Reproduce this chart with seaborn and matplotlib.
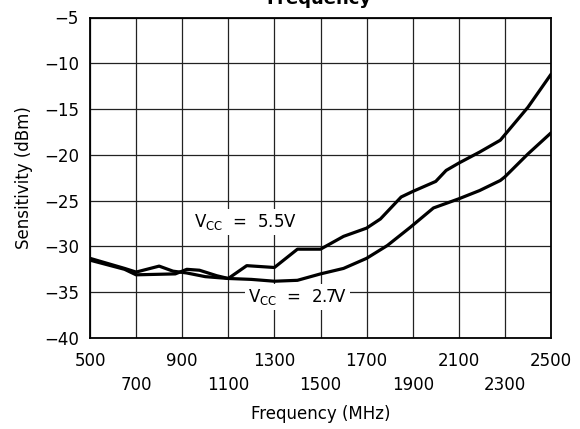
import matplotlib
matplotlib.use("Agg")
import matplotlib.pyplot as plt
import seaborn as sns
import numpy as np

freq_55 = [500, 650, 700, 800, 860, 920, 1000, 1100, 1180, 1300, 1400, 1500, 1600,
           1700, 1760, 1850, 1900, 2000, 2045, 2100, 2190, 2280, 2300, 2400, 2500]
sens_55 = [-31.3, -32.4, -32.8, -32.15, -32.7, -32.9, -33.3, -33.5, -32.1, -32.3, -30.3, -30.3, -28.9,
           -28.0, -27.0, -24.6, -24.0, -22.9, -21.7, -20.9, -19.7, -18.4, -17.8, -14.8, -11.2]

freq_27 = [500, 650, 700, 870, 920, 975, 1050, 1100, 1200, 1300, 1400, 1500, 1600,
           1700, 1790, 1890, 1990, 2100, 2190, 2280, 2300, 2400, 2500]
sens_27 = [-31.5, -32.5, -33.1, -33.0, -32.5, -32.6, -33.2, -33.5, -33.6, -33.8, -33.7, -33.0, -32.4,
           -31.3, -29.9, -27.9, -25.8, -24.8, -23.9, -22.8, -22.4, -19.9, -17.6]

xticks_row1 = [500, 900, 1300, 1700, 2100, 2500]
xticks_row2 = [700, 1100, 1500, 1900, 2300]
yticks = [-5, -10, -15, -20, -25, -30, -35, -40]

sns.set_theme(style="white")
plt.rcParams['font.family'] = ['DejaVu Sans']
plt.rcParams['text.color'] = 'black'
plt.rcParams['axes.labelcolor'] = 'black'

fig = plt.figure(figsize=(5.80, 4.29), dpi=100)
ax = fig.add_axes([90/580, 1-338/429, (551-90)/580, (338-17.5)/429])

sns.lineplot(x=freq_55, y=sens_55, color='black', lw=2.3, ax=ax, zorder=3)
sns.lineplot(x=freq_27, y=sens_27, color='black', lw=2.3, ax=ax, zorder=3)

ax.set_xlim(500, 2500)
ax.set_ylim(-40, -5)

ax.set_xticks(xticks_row1)
ax.set_xticklabels([str(v) for v in xticks_row1])
ax.set_xticks(xticks_row2, minor=True)
ax.set_xticklabels([str(v) for v in xticks_row2], minor=True)
ax.set_yticks(yticks)
ax.set_yticklabels(['\u2212' + str(abs(v)) for v in yticks])

ax.tick_params(axis='both', which='both', length=0, labelsize=12, colors='black')
ax.tick_params(axis='x', which='major', pad=10)
ax.tick_params(axis='x', which='minor', pad=27)
ax.tick_params(axis='y', pad=8)

ax.grid(True, which='both', color='#222222', lw=0.9)
for s in ax.spines.values():
    s.set_color('black')
    s.set_linewidth(1.3)

ax.set_xlabel('Frequency (MHz)', fontsize=12, labelpad=8)
ax.set_ylabel('Sensitivity (dBm)', fontsize=12, labelpad=8)

bbox = dict(facecolor='white', edgecolor='none', pad=2)
ax.text(953, -27.9, r'V$_{\mathrm{CC}}$  =  5.5V', fontsize=12, ha='left', va='baseline',
        bbox=bbox, zorder=4)
ax.text(1184, -36.1, r'V$_{\mathrm{CC}}$  =  2.7V', fontsize=12, ha='left', va='baseline',
        bbox=bbox, zorder=4)

fig.text(319/580, 1-4/429, 'Frequency', ha='center', va='baseline',
         fontsize=13, fontweight='bold')

fig.savefig('out.png', dpi=100)
